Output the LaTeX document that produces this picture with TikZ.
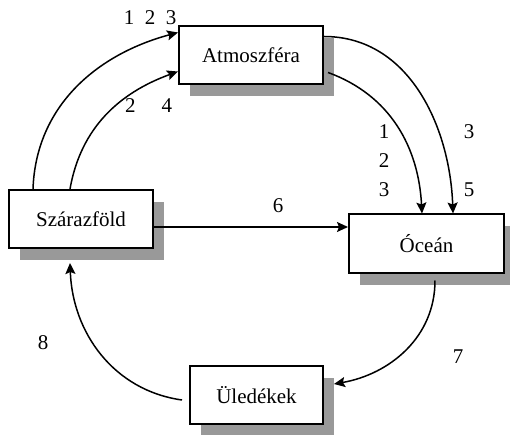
\documentclass[tikz,border=0pt]{standalone}
\usepackage{fontspec}
\setmainfont{Liberation Serif}
\usetikzlibrary{arrows.meta,shadows}
\begin{document}
\begin{tikzpicture}[x=1pt,y=-1pt,
  every node/.style={font=\fontsize{21}{29}\selectfont},
  store/.style={draw, line width=2pt, fill=white, inner sep=0pt,
    minimum height=58pt,
    general shadow={shadow xshift=11pt, shadow yshift=-12pt, fill=black!40}},
  flow/.style={line width=1.5pt, -{Stealth[length=11pt,width=10pt,inset=2pt]}},
  lbl/.style={inner sep=0pt, align=center}]
\useasboundingbox (0,0) rectangle (510,435);

% reservoirs
\node[store, minimum width=144pt] (atm) at (251,55.5) {Atmoszféra};
\node[store, minimum width=155pt] (oce) at (426.5,243.5) {Óceán};
\node[store, minimum width=144pt] (szf) at (81,219) {Szárazföld};
\node[store, minimum width=133pt] (uld) at (256.5,395) {Üledékek};

% anchor points on the boxes
\coordinate (s1) at ([xshift=25pt]szf.north west);
\coordinate (s2) at ([xshift=62pt]szf.north west);
\coordinate (a1) at ([yshift=-7pt]atm.north west);
\coordinate (a2) at ([yshift=-46pt]atm.north west);
\coordinate (a3) at ([yshift=-11pt]atm.north east);
\coordinate (a4) at ([xshift=4pt,yshift=-47pt]atm.north east);
\coordinate (o1) at ([xshift=74pt]oce.north west);
\coordinate (o2) at ([xshift=105pt]oce.north west);
\coordinate (s6) at ([yshift=-8pt]szf.east);
\coordinate (o7) at ([xshift=87pt,yshift=-7pt]oce.south west);
\coordinate (u7) at ([xshift=10pt,yshift=11pt]uld.east);
\coordinate (u8) at ([xshift=-7pt,yshift=-5pt]uld.west);
\coordinate (s8) at ([xshift=62pt,yshift=-14pt]szf.south west);

% fluxes
\draw[flow] (s1) to[out=88,in=195] (a1);
\draw[flow] (s2) to[out=80,in=200] (a2);
\draw[flow] (a3) to[out=0,in=92] (o2);
\draw[flow] (a4) to[out=-20,in=93] (o1);
\draw[flow] (s6) -- (s6 -| oce.west);
\draw[flow] (o7) to[out=-90,in=10] (u7);
\draw[flow] (u8) to[out=172,in=-88] (s8);

% flux labels
\node[lbl] (n123) at (150,18) {1\enspace 2\enspace 3};
\node[lbl] (n24) at (148.5,106) {2\hspace{26pt}4};
\node[lbl] (n123v) at (384,161) {1\\2\\3};
\node[lbl] (n35) at (469,161) {3\\[29pt]5};
\node[lbl] (n6) at (278,206) {6};
\node[lbl] (n7) at (458,357) {7};
\node[lbl] (n8) at (43,343) {8};
\end{tikzpicture}
\end{document}
